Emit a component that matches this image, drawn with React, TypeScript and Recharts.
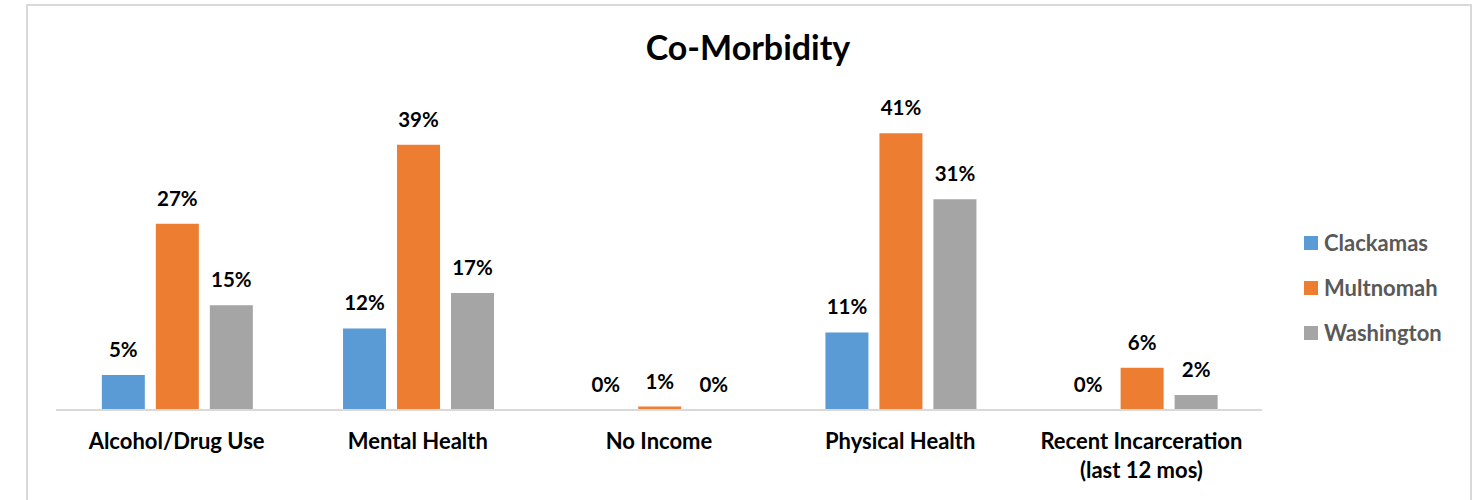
import { BarChart, Bar, XAxis, YAxis, LabelList } from 'recharts';

const categories = [
  'Alcohol/Drug Use',
  'Mental Health',
  'No Income',
  'Physical Health',
  'Recent Incarceration\n(last 12 mos)',
];
const clackamas = [5.15, 12.0, 0, 11.4, 0];
const multnomah = [27.4, 39.0, 0.5, 40.7, 6.2];
const washington = [15.4, 17.2, 0, 31.0, 2.2];

const seriesNames = ['Clackamas', 'Multnomah', 'Washington'];
const seriesColors = ['#5b9bd5', '#ed7d31', '#a5a5a5'];

const data = categories.map((name, i) => ({
  name,
  Clackamas: clackamas[i],
  Multnomah: multnomah[i],
  Washington: washington[i],
}));

const FONT = "Lato, 'Open Sans', sans-serif";

function CategoryTick(props: any) {
  const { x, y, payload } = props;
  const lines = String(payload.value).split('\n');
  return (
    <text
      x={x}
      y={y}
      textAnchor="middle"
      fontSize={22}
      fontWeight="bold"
      fontFamily={FONT}
      fill="#000"
    >
      {lines.map((line, i) => (
        <tspan key={i} x={x} dy={i === 0 ? 31 : 29}>
          {line}
        </tspan>
      ))}
    </text>
  );
}

const pct = (v: any) => `${Math.round(Number(v))}%`;

// zero values still get a label, drawn at the baseline
const minSize = (v: any) => (Number(v) === 0 ? 0.01 : 0);

export default function App() {
  return (
    <div style={{ position: 'relative', width: 1480, height: 500, background: '#fff', overflow: 'hidden' }}>
      <style>{`body{margin:0}`}</style>
      <div
        style={{
          position: 'absolute',
          left: 26,
          top: 4,
          width: 1442,
          height: 520,
          border: '2px solid #d9d9d9',
        }}
      />
      <div
        style={{
          position: 'absolute',
          left: 0,
          width: 1496,
          top: 26,
          textAlign: 'center',
          fontFamily: FONT,
          fontWeight: 'bold',
          fontSize: 34,
          color: '#000',
        }}
      >
        Co-Morbidity
      </div>

      <div style={{ position: 'absolute', left: 0, top: 0 }}>
        <BarChart
          width={1480}
          height={500}
          data={data}
          margin={{ top: 104, right: 218, bottom: 0, left: 56 }}
          barCategoryGap="19%"
          barGap={11}
        >
          <YAxis hide domain={[0, 45]} />
          <XAxis
            dataKey="name"
            height={90}
            interval={0}
            tickLine={false}
            axisLine={{ stroke: '#d9d9d9', strokeWidth: 2 }}
            tick={<CategoryTick />}
          />
          {seriesNames.map((s, i) => (
            <Bar
              key={s}
              dataKey={s}
              fill={seriesColors[i]}
              minPointSize={minSize}
              isAnimationActive={false}
            >
              <LabelList
                dataKey={s}
                position="top"
                offset={18}
                formatter={pct}
                style={{ fontFamily: FONT, fontWeight: 'bold', fontSize: 20.5, fill: '#000' }}
              />
            </Bar>
          ))}
        </BarChart>
      </div>

      <div style={{ position: 'absolute', left: 1304, top: 220, fontFamily: FONT }}>
        {seriesNames.map((s, i) => (
          <div key={s} style={{ display: 'flex', alignItems: 'center', height: 45 }}>
            <span style={{ width: 14, height: 14, background: seriesColors[i], marginRight: 6 }} />
            <span style={{ fontSize: 22, fontWeight: 'bold', color: '#595959' }}>{s}</span>
          </div>
        ))}
      </div>
    </div>
  );
}
